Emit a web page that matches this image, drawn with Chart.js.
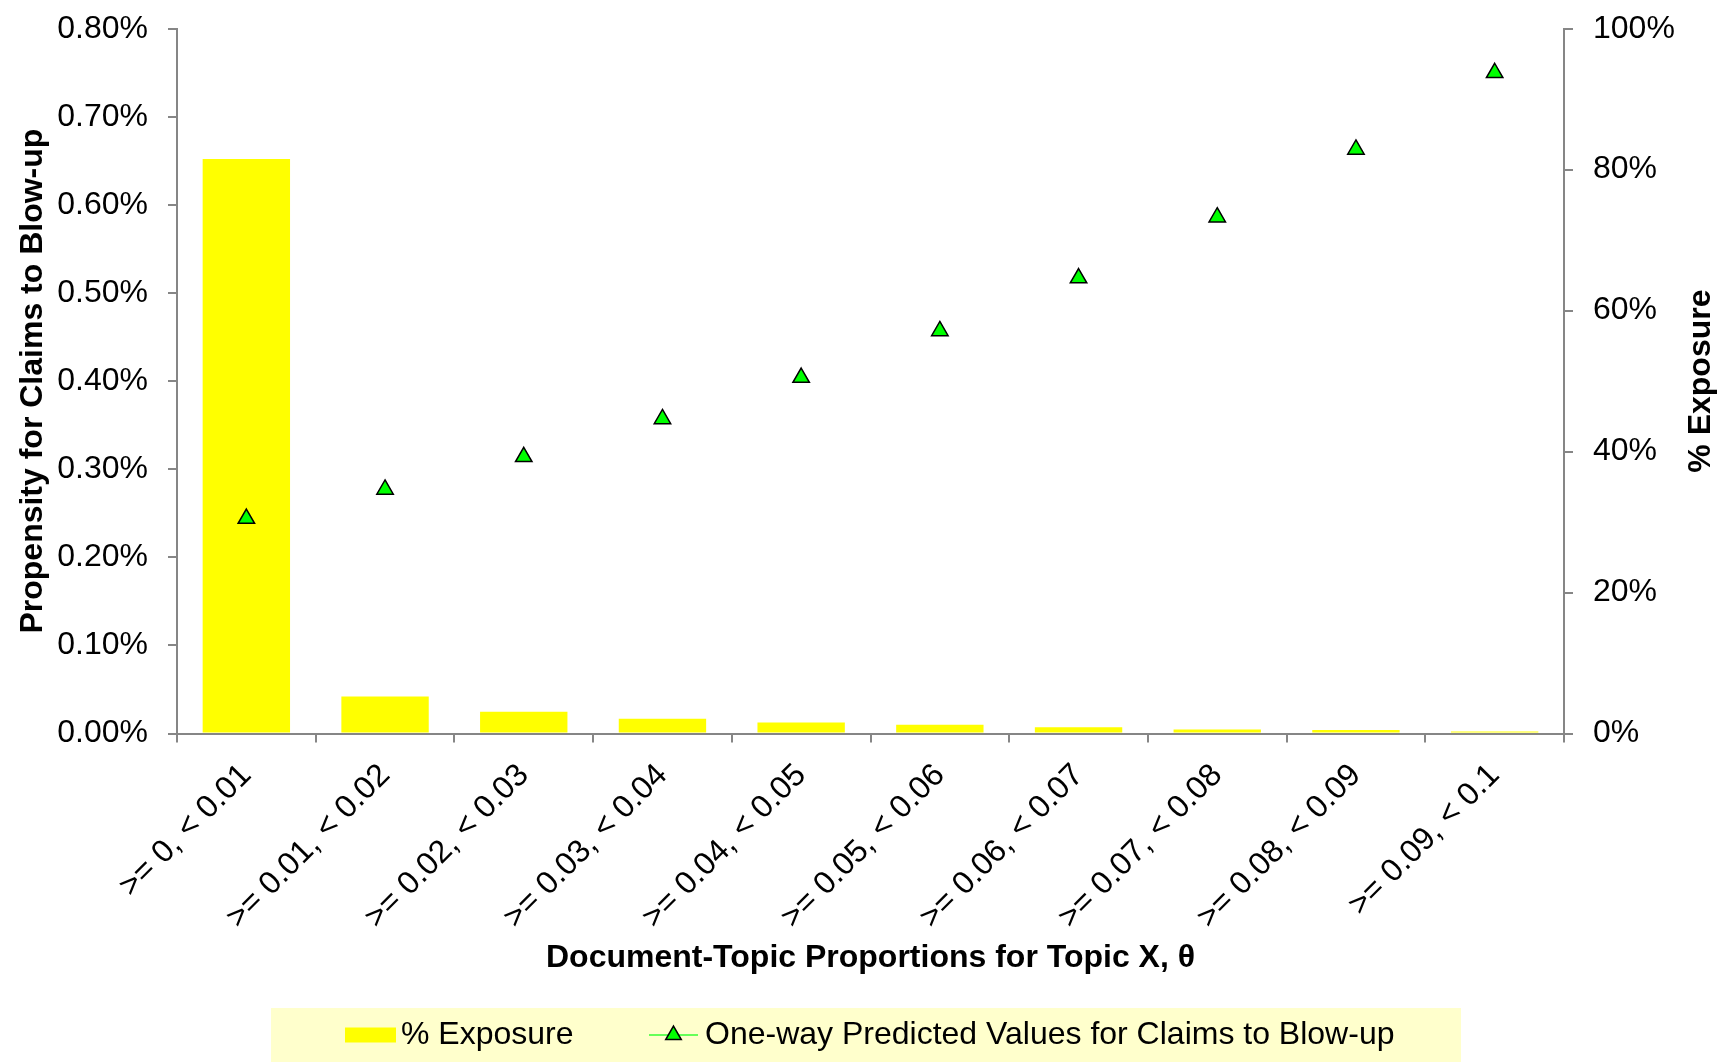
<!DOCTYPE html>
<html>
<head>
<meta charset="utf-8">
<script src="https://cdn.jsdelivr.net/npm/chart.js@4"></script>
<style>
  html, body { margin: 0; padding: 0; background: #fff; }
  #wrap { width: 1732px; height: 1062px; }
</style>
</head>
<body>
<div id="wrap"><canvas id="chart" width="1732" height="1062"></canvas></div>
<script>
const categories = [
  ">= 0, < 0.01", ">= 0.01, < 0.02", ">= 0.02, < 0.03", ">= 0.03, < 0.04", ">= 0.04, < 0.05",
  ">= 0.05, < 0.06", ">= 0.06, < 0.07", ">= 0.07, < 0.08", ">= 0.08, < 0.09", ">= 0.09, < 0.1"
];
// % exposure (right axis, percent)
const exposure = [81.5, 5.25, 3.1, 2.1, 1.55, 1.25, 0.9, 0.55, 0.5, 0.3];
// one-way predicted propensity (left axis, percent)
const propensity = [0.244, 0.277, 0.314, 0.357, 0.404, 0.457, 0.517, 0.586, 0.663, 0.750];
const seriesNames = ["% Exposure", "One-way Predicted Values for Claims to Blow-up"];
const rightTitle = "% Exposure";

const axisGray = "#868686";
const fontFamily = "'Liberation Sans', Arial, sans-serif";
Chart.defaults.font.family = fontFamily;
Chart.defaults.font.size = 32;
Chart.defaults.color = "#000";

// Excel-style legend panel under the chart, plus the right axis title (reads bottom-to-top)
const extras = {
  id: "extras",
  afterDraw(chart) {
    const ctx = chart.ctx;
    const ca = chart.chartArea;
    ctx.save();
    // right axis title
    ctx.font = "bold 32px " + fontFamily;
    ctx.fillStyle = "#000";
    ctx.textAlign = "center";
    ctx.textBaseline = "middle";
    ctx.translate(1701, (ca.top + ca.bottom) / 2);
    ctx.rotate(-Math.PI / 2);
    ctx.fillText(rightTitle, 0, 0);
    ctx.restore();

    ctx.save();
    const cy = 1035;
    ctx.fillStyle = "#ffffcc";
    ctx.fillRect(271, 1008, 1190, 54);
    ctx.fillStyle = "#ffff00";
    ctx.fillRect(345, cy - 7.5, 51, 15);
    ctx.font = "32px " + fontFamily;
    ctx.fillStyle = "#000";
    ctx.textAlign = "left";
    ctx.textBaseline = "middle";
    ctx.fillText(seriesNames[0], 401, cy);
    ctx.strokeStyle = "#33ff33";
    ctx.lineWidth = 1.5;
    ctx.beginPath();
    ctx.moveTo(649, cy);
    ctx.lineTo(698, cy);
    ctx.stroke();
    const r = 9, tx = 673.5;
    ctx.beginPath();
    ctx.moveTo(tx, cy - r);
    ctx.lineTo(tx + r * 0.866, cy + r / 2);
    ctx.lineTo(tx - r * 0.866, cy + r / 2);
    ctx.closePath();
    ctx.fillStyle = "#00ff00";
    ctx.fill();
    ctx.strokeStyle = "#000";
    ctx.lineWidth = 1.5;
    ctx.stroke();
    ctx.fillStyle = "#000";
    ctx.fillText(seriesNames[1], 705, cy);
    ctx.restore();
  }
};

new Chart(document.getElementById("chart"), {
  data: {
    labels: categories,
    datasets: [
      {
        type: "bar",
        label: seriesNames[0],
        data: exposure,
        yAxisID: "y1",
        backgroundColor: "#ffff00",
        borderWidth: 0,
        barPercentage: 0.63,
        categoryPercentage: 1,
        order: 2
      },
      {
        type: "line",
        label: seriesNames[1],
        data: propensity,
        yAxisID: "y",
        showLine: false,
        borderColor: "#33ff33",
        pointStyle: "triangle",
        pointRadius: 9.5,
        pointHoverRadius: 9.5,
        pointBackgroundColor: "#00ff00",
        pointBorderColor: "#000",
        pointBorderWidth: 1.5,
        order: 1
      }
    ]
  },
  options: {
    responsive: false,
    animation: false,
    layout: { padding: { left: 0, right: 0, top: 28.7, bottom: 54 } },
    plugins: {
      tooltip: { enabled: false },
      legend: { display: false }
    },
    scales: {
      x: {
        grid: { display: true, offset: true, drawOnChartArea: false, drawTicks: true, tickLength: 9, color: axisGray, lineWidth: 2 },
        border: { color: axisGray, width: 2 },
        ticks: { autoSkip: false, minRotation: 45, maxRotation: 45, padding: 14 },
        title: {
          display: true,
          text: "Document-Topic Proportions for Topic X, θ",
          font: { weight: "bold", size: 32 },
          padding: { top: 10, bottom: 31 }
        },
        afterFit(scale) {
          scale.height = 274.5;
          scale.paddingLeft = 0;
          scale.paddingRight = 0;
        }
      },
      y: {
        position: "left",
        min: 0,
        max: 0.8,
        grid: { drawOnChartArea: false, drawTicks: true, tickLength: 9, color: axisGray, lineWidth: 2 },
        border: { color: axisGray, width: 2 },
        ticks: {
          stepSize: 0.1,
          padding: 20,
          crossAlign: "near",
          callback: v => v.toFixed(2) + "%"
        },
        title: {
          display: true,
          text: "Propensity for Claims to Blow-up",
          font: { weight: "bold", size: 32 },
          padding: { top: 14, bottom: 4 }
        },
        afterFit(scale) {
          scale.width = 177;
          scale.paddingTop = 0;
          scale.paddingBottom = 0;
        }
      },
      y1: {
        position: "right",
        min: 0,
        max: 100,
        grid: { drawOnChartArea: false, drawTicks: true, tickLength: 9, color: axisGray, lineWidth: 2 },
        border: { color: axisGray, width: 2 },
        ticks: {
          stepSize: 20,
          padding: 20,
          crossAlign: "near",
          callback: v => v + "%"
        },
        afterFit(scale) {
          scale.width = 168;
          scale.paddingTop = 0;
          scale.paddingBottom = 0;
        }
      }
    }
  },
  plugins: [extras]
});
</script>
</body>
</html>
